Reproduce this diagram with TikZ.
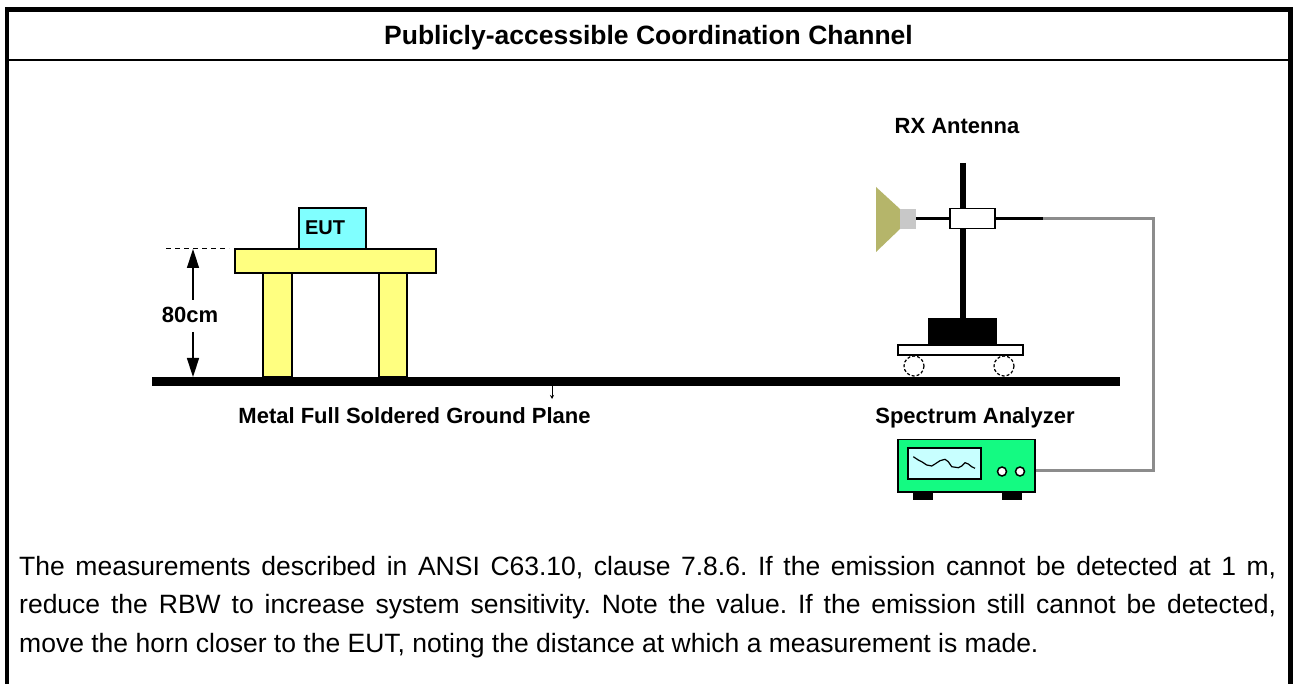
\documentclass[tikz,border=0pt]{standalone}
\usepackage{fontspec}
\setmainfont{Liberation Sans}
\usetikzlibrary{arrows.meta}
\frenchspacing
\definecolor{tableyellow}{RGB}{255,255,128}
\definecolor{eutcyan}{RGB}{128,255,255}
\definecolor{hornolive}{RGB}{181,181,106}
\definecolor{couplergray}{RGB}{200,200,200}
\definecolor{cablegray}{RGB}{140,140,140}
\definecolor{sagreen}{RGB}{20,250,130}
\definecolor{screencyan}{RGB}{200,255,255}
\tikzset{
  frameline/.style={line width=4.5pt, line join=miter},
  lbl/.style={font=\bfseries\fontsize{22}{24}\selectfont, inner sep=0pt, anchor=base},
  outlined/.style={draw=black, line width=1.5pt},
  cable/.style={draw=cablegray, line width=3pt, line join=miter},
  bodyline/.style={font=\fontsize{26.5}{30}\selectfont, inner sep=0pt, anchor=base west},
}
\begin{document}
\begin{tikzpicture}[x=1pt,y=-1pt]
\useasboundingbox (0,0) rectangle (1293,684);
\fill[white] (0,0) rectangle (1293,684);
% frame
\draw[frameline] (7,700) -- (7,9.5) -- (1290.5,9.5) -- (1290.5,700);
\draw[line width=2.5pt] (7,60) -- (1290.5,60);
\node[font=\bfseries\fontsize{26.5}{30}\selectfont, inner sep=0pt, anchor=base] (title) at (648.5,44.5) {Publicly-accessible Coordination Channel};

% ground plane
\fill[black] (152,377) rectangle (1120,386);
\coordinate (tickA) at (552,386);
\coordinate (tickB) at (552,399);
\draw[line width=1pt, -{Stealth[length=4pt,width=4pt]}] (tickA) -- (tickB);
\node[lbl] (gplabel) at (414.5,423) {Metal Full Soldered Ground Plane};

% table
\draw[outlined, fill=tableyellow] (263,273) rectangle (292,377);
\draw[outlined, fill=tableyellow] (379,273) rectangle (407,377);
\draw[outlined, fill=tableyellow] (235,249) rectangle (436,273);
\draw[outlined, fill=eutcyan] (299,208) rectangle (366,249);
\node[lbl, font=\bfseries\fontsize{20}{22}\selectfont] (eut) at (325,235) {EUT};

% height marker
\draw[line width=1pt, dash pattern=on 5pt off 4pt] (166,249) -- (229,249);
\coordinate (upTip) at (193,249);
\coordinate (upTail) at (193,300);
\coordinate (dnTail) at (193,332);
\coordinate (dnTip) at (193,377);
\draw[line width=1.5pt, -{Triangle[length=19pt,width=12pt]}] (upTail) -- (upTip);
\draw[line width=1.5pt, -{Triangle[length=19pt,width=12pt]}] (dnTail) -- (dnTip);
\node[lbl] (h80) at (190,323) {80cm};

% antenna
\node[lbl] (rxlabel) at (957,134) {RX Antenna};
\draw[line width=5.5pt] (963,163) -- (963,318);
\fill[hornolive] (876,187) -- (900,209) -- (900,229) -- (876,252) -- cycle;
\fill[couplergray] (900,209) rectangle (916,229);
\coordinate (boomL) at (916,219);
\coordinate (boomR) at (1043,219);
\draw[line width=3pt] (boomL) -- (boomR);
\draw[outlined, fill=white] (950,208.5) rectangle (995,228.5);
\fill[black] (928,318) rectangle (997,345.5);
\draw[outlined, fill=white] (898,345) rectangle (1023,355);
\draw[line width=1.2pt, dash pattern=on 3pt off 2pt, fill=white] (914,366) circle (10);
\draw[line width=1.2pt, dash pattern=on 3pt off 2pt, fill=white] (1004,366) circle (10);

% cable
\coordinate (cableCorner1) at (1153,219);
\coordinate (cableCorner2) at (1153,470.5);
\coordinate (saPort) at (1020,470.5);
\draw[cable] (boomR) -- (cableCorner1) -- (cableCorner2) -- (saPort);

% spectrum analyzer
\node[lbl] (salabel) at (975,423) {Spectrum Analyzer};
\fill[black] (913,491) rectangle (933,500);
\fill[black] (1002,491) rectangle (1022,500);
\draw[outlined, fill=sagreen] (898,439.5) rectangle (1035,492);
\draw[line width=2pt, fill=screencyan] (908,447.5) rectangle (981,479);
\draw[line width=1.2pt, line join=round] (913.3,456.7) -- (918.3,460) -- (921.7,461.7) -- (926.7,465) -- (931.7,466) -- (935,464) -- (940,460.7) -- (945,459.3) -- (948.3,461.7) -- (951.7,466.7) -- (958.3,467.7) -- (961.7,466) -- (965,462.7) -- (968.3,464) -- (971.7,466.7) -- (975,468.3);
\draw[line width=1.5pt, fill=white] (1002,471.5) circle (4.5);
\draw[line width=1.5pt, fill=white] (1020,471.5) circle (4.5);

% body text
\node[bodyline] (t1) at (19,575) {\makebox[1257pt][s]{The measurements described in ANSI C63.10, clause 7.8.6. If the emission cannot be detected at 1 m,}};
\node[bodyline] (t2) at (19,613.5) {\makebox[1257pt][s]{reduce the RBW to increase system sensitivity. Note the value. If the emission still cannot be detected,}};
\node[bodyline] (t3) at (19,652) {move the horn closer to the EUT, noting the distance at which a measurement is made.};
\end{tikzpicture}
\end{document}
